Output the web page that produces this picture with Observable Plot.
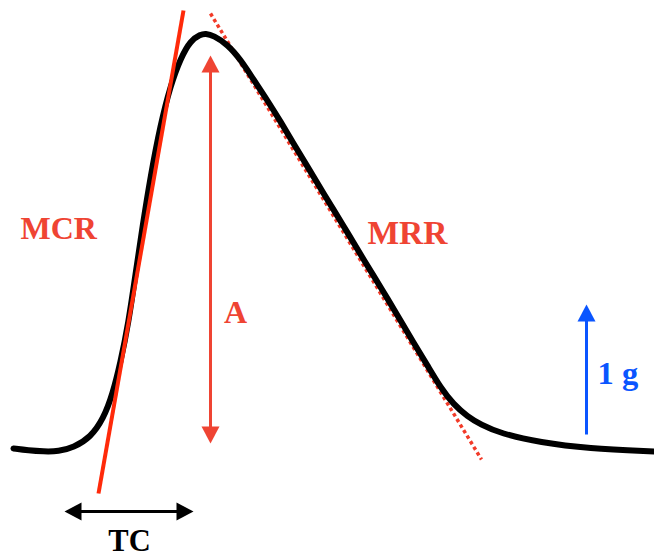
<!DOCTYPE html>
<html>
<head>
<meta charset="utf-8">
<script src="https://cdn.jsdelivr.net/npm/d3@7"></script>
<script src="https://cdn.jsdelivr.net/npm/@observablehq/plot@0.6"></script>
<style>
  html, body { margin: 0; padding: 0; background: #fff; }
  #chart svg { display: block; }
</style>
</head>
<body>
<div id="chart"></div>
<script>
// Twitch curve (picture units: time to the right, force on a reversed scale)
const curveT = [13, 28, 43, 58, 73, 90, 103, 112, 120, 128, 135, 142, 150, 160, 170, 180, 190, 200, 205, 213, 227, 240, 253, 267, 280, 293, 307, 320, 333, 347, 360, 373, 387, 400, 413, 427, 440, 453, 467, 480, 500, 540, 587, 654];
const curveF = [448, 450, 451, 451, 447, 437, 418, 394, 362, 322, 274, 226, 176, 124, 85, 58, 40, 34, 33, 35, 44, 59, 79, 100, 121, 143, 166, 188, 209, 232, 254, 275, 298, 320, 342, 365, 387, 404, 416, 424, 433, 442, 448, 451];

// Tangent lines: MCR (solid) and MRR (dotted)
const tangentNames = ["MCR", "MRR"];
const tangentT1 = [183, 210];
const tangentF1 = [10, 13];
const tangentT2 = [98, 481];
const tangentF2 = [493, 459];

// Arrows (from first end to second end)
const arrowNames = ["A", "1 g", "TC"];
const arrowT1 = [210, 586, 64];
const arrowF1 = [55, 434, 511];
const arrowT2 = [210, 586, 193];
const arrowF2 = [443, 304, 511];

// Labels
const labelText = ["MCR", "MRR", "A", "1 g", "TC"];
const labelT = [20, 367, 235, 597, 129];
const labelF = [238, 243, 322, 383, 550];
const labelSize = [32, 33.5, 32, 32.5, 30.5];

const red = "#ef4433";
const blue = "#0a55ff";

const curve = curveT.map((t, i) => ({t, f: curveF[i]}));
const tangents = tangentNames.map((name, i) => ({name, t1: tangentT1[i], f1: tangentF1[i], t2: tangentT2[i], f2: tangentF2[i]}));
const arrowColor = {"A": red, "1 g": blue, "TC": "#000"};
const arrows = arrowNames.map((name, i) => ({name, t1: arrowT1[i], f1: arrowF1[i], t2: arrowT2[i], f2: arrowF2[i], color: arrowColor[name]}));
const labelColor = {"MCR": red, "MRR": red, "A": red, "1 g": blue, "TC": "#000"};
const labels = labelText.map((text, i) => ({text, t: labelT[i], f: labelF[i], size: labelSize[i], color: labelColor[text]}));

const HEAD = 17, HALF = 9;
// shafts stop at the base of arrowheads
const shafts = arrows.map(a => {
  const dx = a.t2 - a.t1, dy = a.f2 - a.f1, len = Math.hypot(dx, dy);
  const ux = dx / len, uy = dy / len;
  const both = a.name !== "1 g";
  return {
    ...a,
    s1t: both ? a.t1 + ux * (HEAD - 2) : a.t1,
    s1f: both ? a.f1 + uy * (HEAD - 2) : a.f1,
    s2t: a.t2 - ux * (HEAD - 2),
    s2f: a.f2 - uy * (HEAD - 2)
  };
});
// heads: tip point and direction angle (0 = up, 90 = right)
const heads = [];
for (const a of arrows) {
  const dx = a.t2 - a.t1, dy = a.f2 - a.f1;
  const ang = Math.atan2(dx, -dy) * 180 / Math.PI;
  heads.push({t: a.t2, f: a.f2, rot: ang, color: a.color});
  if (a.name !== "1 g") heads.push({t: a.t1, f: a.f1, rot: ang + 180, color: a.color});
}
const headSymbol = {
  draw(ctx) {
    ctx.moveTo(0, 0);
    ctx.lineTo(HALF, HEAD);
    ctx.lineTo(-HALF, HEAD);
    ctx.closePath();
  }
};

const textMarks = labels.map(d => Plot.text([d], {
  x: "t", y: "f", text: "text", fill: d.color,
  fontSize: d.size, fontWeight: "bold", lineAnchor: "bottom",
  textAnchor: (d.text === "A" || d.text === "TC") ? "middle" : "start"
}));

const chart = Plot.plot({
  width: 654,
  height: 553,
  margin: 0,
  x: {domain: [0, 654], axis: null},
  y: {domain: [0, 553], reverse: true, axis: null},
  style: {background: "#fff", fontFamily: "'Liberation Serif', 'Times New Roman', serif"},
  marks: [
    Plot.link(tangents.filter(d => d.name === "MRR"), {
      x1: "t1", y1: "f1", x2: "t2", y2: "f2",
      stroke: "#f23a28", strokeWidth: 3.5, strokeDasharray: "3.5,3"
    }),
    Plot.line(curve, {x: "t", y: "f", curve: "basis", stroke: "#000", strokeWidth: 6, strokeLinecap: "round"}),
    Plot.link(tangents.filter(d => d.name === "MCR"), {
      x1: "t1", y1: "f1", x2: "t2", y2: "f2",
      stroke: "#ff2a0a", strokeWidth: 4
    }),
    Plot.link(shafts, {
      x1: "s1t", y1: "s1f", x2: "s2t", y2: "s2f",
      stroke: d => d.color, strokeWidth: 3
    }),
    Plot.dot(heads, {
      x: "t", y: "f", rotate: "rot", symbol: headSymbol,
      fill: d => d.color, stroke: "none", r: 5
    }),
    ...textMarks
  ]
});
document.getElementById("chart").append(chart);
</script>
</body>
</html>
